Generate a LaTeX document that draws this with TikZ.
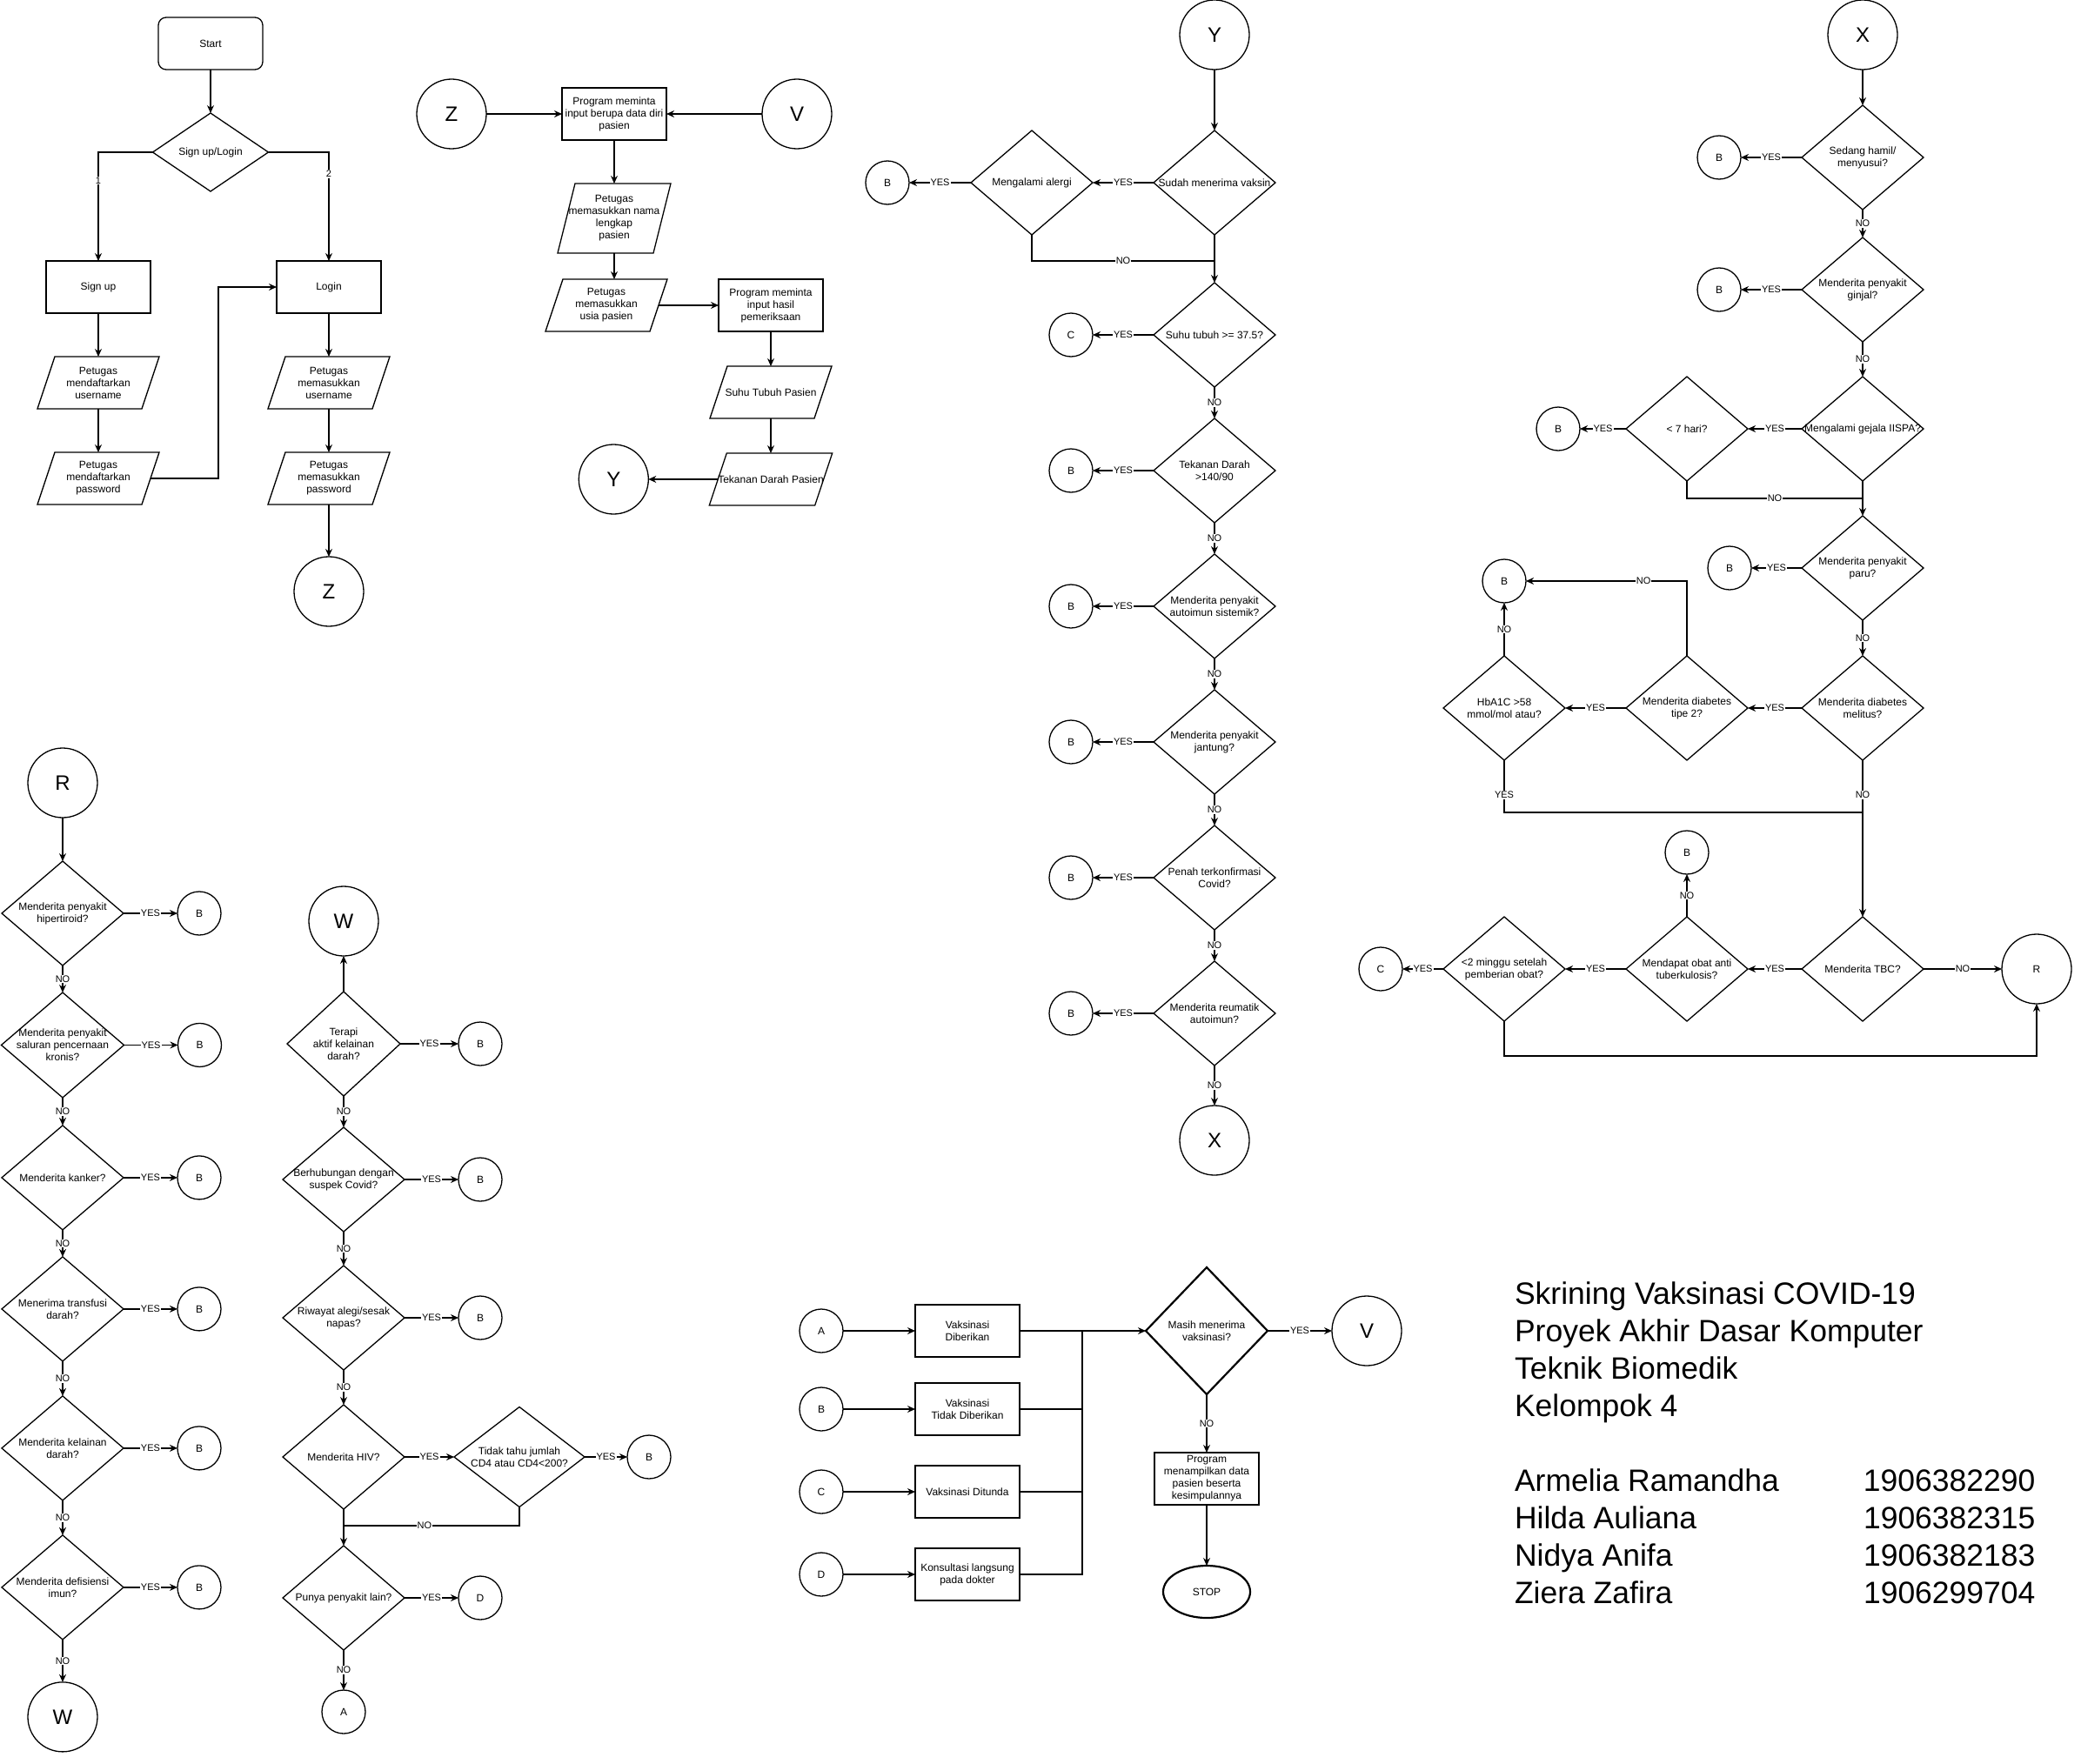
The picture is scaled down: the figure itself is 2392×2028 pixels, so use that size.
\documentclass[tikz,border=0pt]{standalone}
\usepackage{fontspec}
\setmainfont{Liberation Sans}
\usetikzlibrary{shapes,arrows.meta,positioning}

\begin{document}
\begin{tikzpicture}[
    x=1pt, y=-1pt,
    line width=1.3pt,
    every node/.style={font=\fontsize{12}{14}\selectfont, outer sep=0pt},
    terminal/.style={rectangle, rounded corners=9pt, draw, minimum width=120pt, minimum height=60pt},
    process/.style={rectangle, draw, align=center, minimum width=120pt, minimum height=60pt, inner sep=1pt},
    io/.style={rectangle, align=center, minimum width=120pt, minimum height=60pt, inner sep=0pt,
        append after command={\pgfextra{\draw
            ([xshift=-10pt]\tikzlastnode.south west) -- ([xshift=-10pt]\tikzlastnode.south east) --
            ([xshift=10pt]\tikzlastnode.north east) -- ([xshift=10pt]\tikzlastnode.north west) -- cycle;}}},
    decision/.style={diamond, draw, align=center, aspect=1.1667, minimum width=140pt, minimum height=120pt, inner xsep=-4pt, inner ysep=0pt},
    conn/.style={circle, draw, minimum size=50pt, inner sep=0pt},
    bigconn/.style={circle, draw, minimum size=80pt, inner sep=0pt, font=\fontsize{24}{24}\selectfont},
    stopnode/.style={ellipse, draw, line width=2.2pt, minimum width=100pt, minimum height=60pt},
    arrow/.style={->, >={Stealth[length=9pt, width=8pt]}},
    yn/.style={fill=white, inner sep=1pt, font=\fontsize{11}{11}\selectfont}
]
\useasboundingbox (0,0) rectangle (2392,2028);

% Sign up / login
\node[terminal] (start) at (242,50) {Start};
\node[decision, minimum width=133pt, minimum height=90pt, below=50pt of start] (signlog) {Sign up/Login};
\node[process, below=80pt of signlog, xshift=-129pt] (signup) {Sign up};
\node[process, below=80pt of signlog, xshift=136pt] (login) {Login};
\node[io, below=50pt of signup] (sunm) {Petugas\\mendaftarkan\\username};
\node[io, below=50pt of sunm] (supw) {Petugas\\mendaftarkan\\password};
\node[io, below=50pt of login] (linm) {Petugas\\memasukkan\\username};
\node[io, below=50pt of linm] (lipw) {Petugas\\memasukkan\\password};
\node[bigconn, below=60pt of lipw] (z1) {Z};

\draw[arrow] (start) -- (signlog);
\draw[arrow] (signlog.west) -| node[yn, pos=0.63] {1} (signup);
\draw[arrow] (signlog.east) -| node[yn, pos=0.6] {2} (login);
\draw[arrow] (signup) -- (sunm);
\draw[arrow] (sunm) -- (supw);
\draw[arrow] (supw.east) -- ++(78pt,0pt) |- (login.west);
\draw[arrow] (login) -- (linm);
\draw[arrow] (linm) -- (lipw);
\draw[arrow] (lipw) -- (z1);

% Data pasien
\node[bigconn] (z2) at (519,131) {Z};
\node[process, right=87pt of z2] (pdata) {Program meminta\\input berupa data diri\\pasien};
\node[bigconn, right=110pt of pdata] (v1) {V};
\node[io, minimum width=110pt, minimum height=80pt, below=50pt of pdata] (pnama) {Petugas\\memasukkan nama\\lengkap\\pasien};
\node[io, below=30pt of pnama, xshift=-9pt] (pusia) {Petugas\\memasukkan\\usia pasien};
\node[process, right=69pt of pusia] (phasil) {Program meminta\\input hasil\\pemeriksaan};
\node[io, below=40pt of phasil] (psuhu) {Suhu Tubuh Pasien};
\node[io, below=40pt of psuhu] (ptensi) {Tekanan Darah Pasien};
\node[bigconn, left=80pt of ptensi] (y1) {Y};

\draw[arrow] (z2) -- (pdata);
\draw[arrow] (v1) -- (pdata);
\draw[arrow] (pdata) -- (pnama);
\draw[arrow] (pnama.south) -- (pnama.south |- pusia.north);
\draw[arrow] (pusia) -- (phasil);
\draw[arrow] (phasil) -- (psuhu);
\draw[arrow] (psuhu) -- (ptensi);
\draw[arrow] (ptensi) -- (y1);

% Y column
\node[bigconn] (y2) at (1396,40) {Y};
\node[decision, below=70pt of y2] (dvaksin) {Sudah menerima vaksin};
\node[decision, left=70pt of dvaksin] (dalergi) {Mengalami alergi};
\node[conn, left=71pt of dalergi] (b1) {B};
\coordinate[below=30pt of dvaksin.south] (j1);
\node[decision, below=55pt of dvaksin] (dsuhu) {Suhu tubuh >= 37.5?};
\node[conn, left=70pt of dsuhu] (c1) {C};
\node[decision, below=36pt of dsuhu] (dtensi) {Tekanan Darah\\>140/90};
\node[conn, left=70pt of dtensi] (b2) {B};
\node[decision, below=36pt of dtensi] (dauto) {Menderita penyakit\\autoimun sistemik?};
\node[conn, left=70pt of dauto] (b3) {B};
\node[decision, below=36pt of dauto] (djantung) {Menderita penyakit\\jantung?};
\node[conn, left=70pt of djantung] (b4) {B};
\node[decision, below=36pt of djantung] (dcovid) {Penah terkonfirmasi\\Covid?};
\node[conn, left=70pt of dcovid] (b5) {B};
\node[decision, below=36pt of dcovid] (dreuma) {Menderita reumatik\\autoimun?};
\node[conn, left=70pt of dreuma] (b6) {B};
\node[bigconn, below=46pt of dreuma] (x1) {X};

\draw[arrow] (y2) -- (dvaksin);
\draw[arrow] (dvaksin) -- node[yn] {YES} (dalergi);
\draw[arrow] (dalergi) -- node[yn] {YES} (b1);
\draw (dalergi.south) |- node[yn, pos=0.75] {NO} (j1);
\draw[arrow] (dvaksin) -- (dsuhu);
\draw[arrow] (dsuhu) -- node[yn] {YES} (c1);
\draw[arrow] (dsuhu) -- node[yn] {NO} (dtensi);
\draw[arrow] (dtensi) -- node[yn] {YES} (b2);
\draw[arrow] (dtensi) -- node[yn] {NO} (dauto);
\draw[arrow] (dauto) -- node[yn] {YES} (b3);
\draw[arrow] (dauto) -- node[yn] {NO} (djantung);
\draw[arrow] (djantung) -- node[yn] {YES} (b4);
\draw[arrow] (djantung) -- node[yn] {NO} (dcovid);
\draw[arrow] (dcovid) -- node[yn] {YES} (b5);
\draw[arrow] (dcovid) -- node[yn] {NO} (dreuma);
\draw[arrow] (dreuma) -- node[yn] {YES} (b6);
\draw[arrow] (dreuma) -- node[yn] {NO} (x1);

% X column
\node[bigconn] (x2) at (2141,40) {X};
\node[decision, below=41pt of x2] (dhamil) {Sedang hamil/\\menyusui?};
\node[conn, left=70pt of dhamil] (b7) {B};
\node[decision, below=32pt of dhamil] (dginjal) {Menderita penyakit\\ginjal?};
\node[conn, left=70pt of dginjal] (b8) {B};
\node[decision, below=40pt of dginjal] (dispa) {Mengalami gejala IISPA?};
\node[decision, left=62pt of dispa] (dhari) {< 7 hari?};
\node[conn, left=53pt of dhari] (b9) {B};
\coordinate[below=20pt of dispa.south] (j2);
\node[decision, below=40pt of dispa] (dparu) {Menderita penyakit\\paru?};
\node[conn, left=58pt of dparu] (b10) {B};
\node[decision, below=41pt of dparu] (dmelitus) {Menderita diabetes\\melitus?};
\node[decision, left=62pt of dmelitus] (dtipe) {Menderita diabetes\\tipe 2?};
\node[decision, left=70pt of dtipe] (dhba) {HbA1C >58\\mmol/mol atau?};
\node[conn, above=61pt of dhba] (b11) {B};
\coordinate[below=60pt of dmelitus.south] (j3);
\node[decision, below=180pt of dmelitus] (dtbc) {Menderita TBC?};
\node[bigconn, font=\fontsize{12}{14}\selectfont, right=90pt of dtbc] (r2) {R};
\node[decision, left=62pt of dtbc] (dobat) {Mendapat obat anti\\tuberkulosis?};
\node[conn, above=49pt of dobat] (b12) {B};
\node[decision, left=70pt of dobat] (dminggu) {<2 minggu setelah\\pemberian obat?};
\node[conn, left=47pt of dminggu] (c2) {C};
\coordinate[below=40pt of dminggu.south] (j4);

\draw[arrow] (x2) -- (dhamil);
\draw[arrow] (dhamil) -- node[yn] {YES} (b7);
\draw[arrow] (dhamil) -- node[yn] {NO} (dginjal);
\draw[arrow] (dginjal) -- node[yn] {YES} (b8);
\draw[arrow] (dginjal) -- node[yn] {NO} (dispa);
\draw[arrow] (dispa) -- node[yn] {YES} (dhari);
\draw[arrow] (dhari) -- node[yn] {YES} (b9);
\draw (dhari.south) |- node[yn, pos=0.75] {NO} (j2);
\draw[arrow] (dispa) -- (dparu);
\draw[arrow] (dparu) -- node[yn] {YES} (b10);
\draw[arrow] (dparu) -- node[yn] {NO} (dmelitus);
\draw[arrow] (dmelitus) -- node[yn] {YES} (dtipe);
\draw[arrow] (dtipe) -- node[yn] {YES} (dhba);
\draw[arrow] (dhba) -- node[yn] {NO} (b11);
\draw[arrow] (dtipe.north) |- node[yn, pos=0.635] {NO} (b11.east);
\draw (dhba.south) |- node[yn, pos=0.33] {YES} (j3);
\draw[arrow] (dmelitus) -- node[yn, pos=0.22] {NO} (dtbc);
\draw[arrow] (dtbc) -- node[yn] {NO} (r2);
\draw[arrow] (dtbc) -- node[yn] {YES} (dobat);
\draw[arrow] (dobat) -- node[yn] {NO} (b12);
\draw[arrow] (dobat) -- node[yn] {YES} (dminggu);
\draw[arrow] (dminggu) -- node[yn] {YES} (c2);
\draw[arrow] (dminggu.south) -- (j4) -| (r2.south);

% R column
\node[bigconn] (r1) at (72,900) {R};
\node[decision, below=50pt of r1] (dtiroid) {Menderita penyakit\\hipertiroid?};
\node[conn, right=62pt of dtiroid] (b13) {B};
\node[decision, below=31pt of dtiroid] (dcerna) {Menderita penyakit\\saluran pencernaan\\kronis?};
\node[conn, right=62pt of dcerna] (b14) {B};
\node[decision, below=32pt of dcerna] (dkanker) {Menderita kanker?};
\node[conn, right=62pt of dkanker] (b15) {B};
\node[decision, below=31pt of dkanker] (dtransf) {Menerima transfusi\\darah?};
\node[conn, right=62pt of dtransf] (b16) {B};
\node[decision, below=40pt of dtransf] (dkelainan) {Menderita kelainan\\darah?};
\node[conn, right=62pt of dkelainan] (b17) {B};
\node[decision, below=40pt of dkelainan] (dimun) {Menderita defisiensi\\imun?};
\node[conn, right=62pt of dimun] (b18) {B};
\node[bigconn, below=49pt of dimun] (w1) {W};

\draw[arrow] (r1) -- (dtiroid);
\draw[arrow] (dtiroid) -- node[yn] {YES} (b13);
\draw[arrow] (dtiroid) -- node[yn] {NO} (dcerna);
\draw[arrow] (dcerna) -- node[yn] {YES} (b14);
\draw[arrow] (dcerna) -- node[yn] {NO} (dkanker);
\draw[arrow] (dkanker) -- node[yn] {YES} (b15);
\draw[arrow] (dkanker) -- node[yn] {NO} (dtransf);
\draw[arrow] (dtransf) -- node[yn] {YES} (b16);
\draw[arrow] (dtransf) -- node[yn] {NO} (dkelainan);
\draw[arrow] (dkelainan) -- node[yn] {YES} (b17);
\draw[arrow] (dkelainan) -- node[yn] {NO} (dimun);
\draw[arrow] (dimun) -- node[yn] {YES} (b18);
\draw[arrow] (dimun) -- node[yn] {NO} (w1);

% W column
\node[bigconn] (w2) at (395,1059) {W};
\node[decision, minimum width=130pt, below=41pt of w2] (dterapi) {Terapi\\aktif kelainan\\darah?};
\node[conn, right=67pt of dterapi] (b19) {B};
\node[decision, below=36pt of dterapi] (dsuspek) {Berhubungan dengan\\suspek Covid?};
\node[conn, right=62pt of dsuspek] (b20) {B};
\node[decision, below=39pt of dsuspek] (dsesak) {Riwayat alegi/sesak\\napas?};
\node[conn, right=62pt of dsesak] (b21) {B};
\node[decision, below=40pt of dsesak] (dhiv) {Menderita HIV?};
\node[decision, minimum width=150pt, minimum height=115pt, aspect=1.3, right=57pt of dhiv] (dcd4) {Tidak tahu jumlah\\CD4 atau CD4<200?};
\node[conn, right=49pt of dcd4] (b22) {B};
\coordinate[below=19pt of dhiv.south] (j5);
\node[decision, below=42pt of dhiv] (dlain) {Punya penyakit lain?};
\node[conn, right=62pt of dlain] (d1) {D};
\node[conn, below=46pt of dlain] (a1) {A};

\draw[arrow] (dterapi) -- (w2);
\draw[arrow] (dterapi) -- node[yn] {YES} (b19);
\draw[arrow] (dterapi) -- node[yn] {NO} (dsuspek);
\draw[arrow] (dsuspek) -- node[yn] {YES} (b20);
\draw[arrow] (dsuspek) -- node[yn] {NO} (dsesak);
\draw[arrow] (dsesak) -- node[yn] {YES} (b21);
\draw[arrow] (dsesak) -- node[yn] {NO} (dhiv);
\draw[arrow] (dhiv) -- node[yn] {YES} (dcd4);
\draw[arrow] (dcd4) -- node[yn] {YES} (b22);
\draw (dcd4.south) |- node[yn, pos=0.77] {NO} (j5);
\draw[arrow] (dhiv) -- (dlain);
\draw[arrow] (dlain) -- node[yn] {YES} (d1);
\draw[arrow] (dlain) -- node[yn] {NO} (a1);

% Hasil akhir
\node[conn] (a2) at (944,1530) {A};
\node[conn, below=40pt of a2] (b23) {B};
\node[conn, below=45pt of b23] (c3) {C};
\node[conn, below=45pt of c3] (d2) {D};
\node[process, right=83pt of a2] (vberi) {Vaksinasi\\Diberikan};
\node[process, right=83pt of b23] (vtidak) {Vaksinasi\\Tidak Diberikan};
\node[process, right=83pt of c3] (vtunda) {Vaksinasi Ditunda};
\node[process, right=83pt of d2] (vkonsul) {Konsultasi langsung\\pada dokter};
\coordinate[right=72pt of vberi.east] (j6);
\node[decision, minimum height=146pt, line width=2.2pt, right=145pt of vberi] (dmasih) {Masih menerima\\vaksinasi?};
\node[bigconn, right=74pt of dmasih] (v2) {V};
\node[process, below=67pt of dmasih] (pout) {Program\\menampilkan data\\pasien beserta\\kesimpulannya};
\node[stopnode, below=70pt of pout] (stop) {STOP};

\draw[arrow] (a2) -- (vberi);
\draw[arrow] (b23) -- (vtidak);
\draw[arrow] (c3) -- (vtunda);
\draw[arrow] (d2) -- (vkonsul);
\draw[arrow] (vberi) -- (dmasih);
\draw (vtidak.east) -| (j6);
\draw (vtunda.east) -| (j6);
\draw (vkonsul.east) -| (j6);
\draw[arrow] (dmasih) -- node[yn] {YES} (v2);
\draw[arrow] (dmasih) -- node[yn] {NO} (pout);
\draw[arrow] (pout) -- (stop);

% Keterangan
\node[anchor=north west, inner sep=0pt, align=left, font=\fontsize{35.5}{43}\selectfont] (info) at (1741,1474)
    {Skrining Vaksinasi COVID-19\\Proyek Akhir Dasar Komputer\\Teknik Biomedik\\Kelompok 4\\[43pt]
     \makebox[401pt][l]{Armelia Ramandha}1906382290\\
     \makebox[401pt][l]{Hilda Auliana}1906382315\\
     \makebox[401pt][l]{Nidya Anifa}1906382183\\
     \makebox[401pt][l]{Ziera Zafira}1906299704};

\end{tikzpicture}
\end{document}
